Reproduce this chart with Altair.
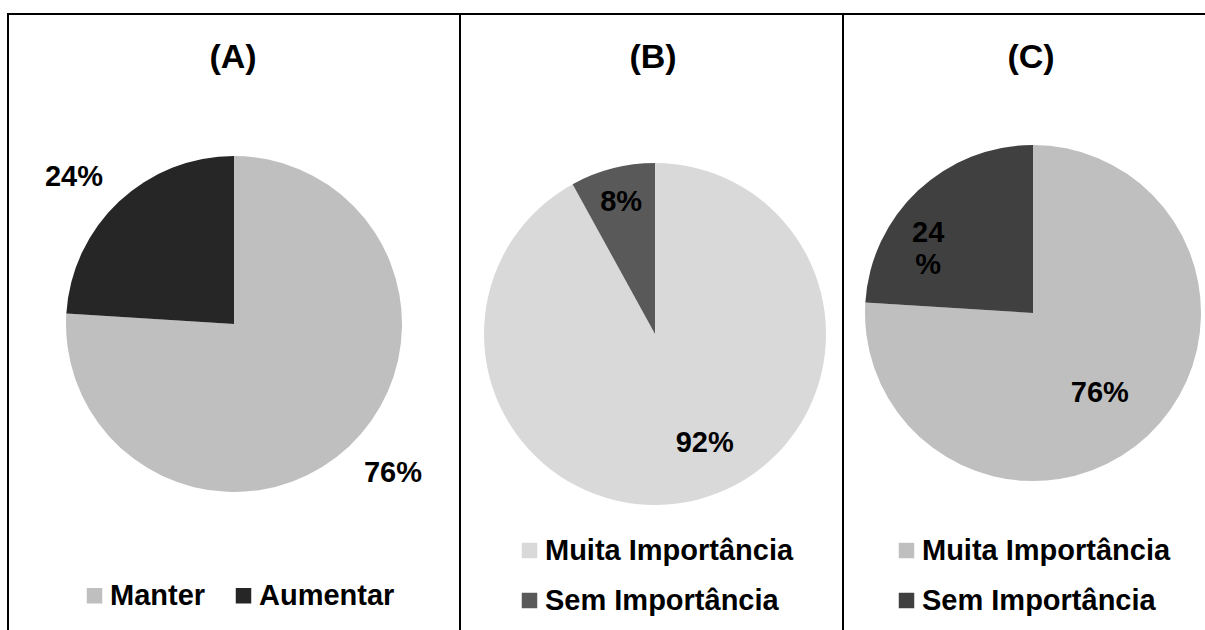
import altair as alt
import pandas as pd

# --- data -------------------------------------------------------------
panel_titles = ["(A)", "(B)", "(C)"]

cats_a = ["Manter", "Aumentar"]
vals_a = [76, 24]

cats_b = ["Muita Importância", "Sem Importância"]
vals_b = [92, 8]

cats_c = ["Muita Importância", "Sem Importância"]
vals_c = [76, 24]

# --- styling ----------------------------------------------------------
FONT = "Liberation Sans"
colors_a = ["#bfbfbf", "#262626"]
colors_b = ["#d9d9d9", "#595959"]
colors_c = ["#bfbfbf", "#404040"]

W, H = 1205, 630

# pie centre / radius, legend placement, title x for each panel
layout = {
    "A": dict(cx=234, cy=324, r=168, tx=233, lx=80, ly=581, direction="horizontal"),
    "B": dict(cx=655, cy=334, r=171, tx=653, lx=515, ly=536, direction="vertical"),
    "C": dict(cx=1033, cy=313, r=168, tx=1031, lx=892, ly=536, direction="vertical"),
}

# label placement: (angle shift from slice middle in % of circle, radius px, wrap)
label_style = {
    "A": {"Manter": (-1.0, 218, False), "Aumentar": (-1.2, 217, False)},
    "B": {"Muita Importância": (-2.8, 120, False), "Sem Importância": (0.0, 136, False)},
    "C": {"Muita Importância": (0.9, 104, False), "Sem Importância": (-2.6, 132, True)},
}

theta_scale = alt.Scale(domain=[0, 100])


def frame(cats, vals):
    return pd.DataFrame({"cat": cats, "v": vals, "i": list(range(len(cats)))})


def pie(key, df, palette):
    p = layout[key]
    return (
        alt.Chart(df)
        .mark_arc(stroke=None)
        .encode(
            x=alt.value(p["cx"]),
            y=alt.value(p["cy"]),
            radius=alt.value(p["r"]),
            theta=alt.Theta("v:Q", stack=True, scale=theta_scale),
            order=alt.Order("i:Q"),
            color=alt.Color(
                "cat:N",
                scale=alt.Scale(domain=list(df["cat"]), range=palette),
                legend=alt.Legend(
                    title=None,
                    orient="none",
                    legendX=p["lx"],
                    legendY=p["ly"],
                    direction=p["direction"],
                    symbolType="square",
                    symbolSize=240,
                    symbolStrokeWidth=0,
                    labelFont=FONT,
                    labelFontSize=29,
                    labelFontWeight="bold",
                    labelColor="black",
                    labelLimit=500,
                    labelOffset=1,
                    columnPadding=23,
                    rowPadding=20,
                    padding=0,
                ),
            ),
        )
    )


def labels(key, df):
    p = layout[key]
    layers = []
    for cat, (shift, rad, wrap) in label_style[key].items():
        sep = "'\\n%'" if wrap else "'%'"
        layers.append(
            alt.Chart(df)
            .transform_window(cum="sum(v)", sort=[alt.SortField("i")])
            .transform_calculate(
                mid=f"datum.cum - datum.v / 2 + ({shift})",
                lbl=f"datum.v + {sep}",
            )
            .transform_filter(alt.datum.cat == cat)
            .mark_text(
                radius=rad,
                font=FONT,
                fontSize=29,
                fontWeight="bold",
                color="black",
                align="center",
                baseline="middle",
                lineBreak="\n",
                lineHeight=32,
            )
            .encode(
                x=alt.value(p["cx"]),
                y=alt.value(p["cy"]),
                theta=alt.Theta("mid:Q", stack=False, scale=theta_scale),
                text="lbl:N",
            )
        )
    return layers


def title(key, text):
    p = layout[key]
    return (
        alt.Chart(pd.DataFrame({"t": [text]}))
        .mark_text(font=FONT, fontSize=34, fontWeight="bold", color="black",
                   align="center", baseline="middle")
        .encode(x=alt.value(p["tx"]), y=alt.value(58), text="t:N")
    )


def hline(x1, x2, y):
    return alt.Chart(pd.DataFrame({"k": [0]})).mark_rule(color="black", strokeWidth=2).encode(
        x=alt.value(x1), x2=alt.value(x2), y=alt.value(y))


def vline(x, y1, y2):
    return alt.Chart(pd.DataFrame({"k": [0]})).mark_rule(color="black", strokeWidth=2).encode(
        x=alt.value(x), y=alt.value(y1), y2=alt.value(y2))


df_a, df_b, df_c = frame(cats_a, vals_a), frame(cats_b, vals_b), frame(cats_c, vals_c)

layers = [
    pie("A", df_a, colors_a),
    pie("B", df_b, colors_b),
    pie("C", df_c, colors_c),
]
layers += labels("A", df_a) + labels("B", df_b) + labels("C", df_c)
layers += [title(k, t) for k, t in zip(["A", "B", "C"], panel_titles)]
layers += [
    hline(7, W, 14),
    vline(8, 13, H),
    vline(460, 13, H),
    vline(843, 13, H),
]

chart = (
    alt.layer(*layers)
    .resolve_scale(color="independent")
    .resolve_legend(color="independent")
    .properties(width=W, height=H, autosize=alt.AutoSizeParams(type="none"), padding=0,
                background="white")
    .configure_view(stroke=None)
)

chart.save("out.html", embed_options={"renderer": "svg", "actions": False})
